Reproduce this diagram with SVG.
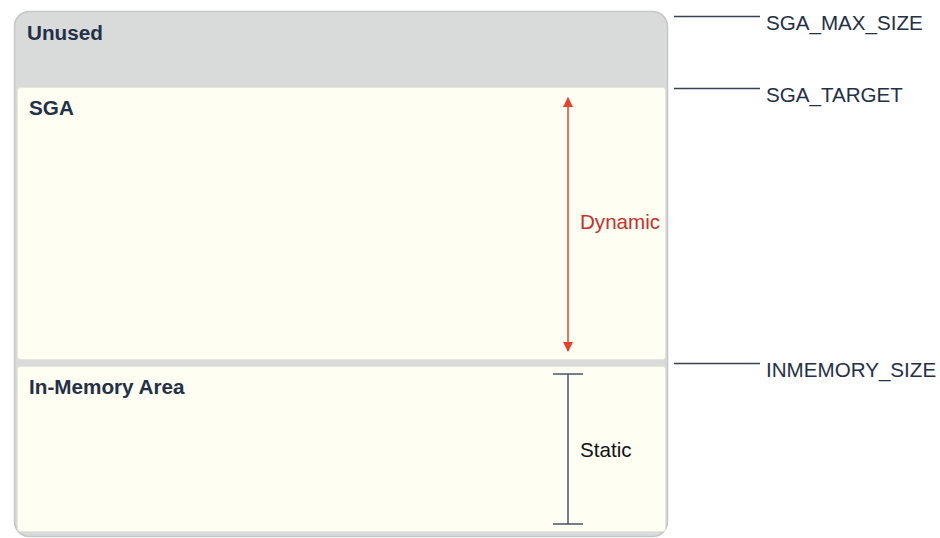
<svg xmlns="http://www.w3.org/2000/svg" width="940" height="538" viewBox="0 0 940 538">
<style>
.box{fill:#fefef3;stroke:#e6e6dc;stroke-width:1}
.title{font-family:"Liberation Sans",Arial,sans-serif;font-weight:bold;font-size:20.7px;fill:#243047}
.lbl{font-family:"Liberation Sans",Arial,sans-serif;font-size:20.6px;fill:#243047}
.lead{stroke:#3a4255;stroke-width:1.3}
</style>
<defs>
<marker id="ah" viewBox="0 0 10 10" refX="9" refY="5" markerWidth="10" markerHeight="12" markerUnits="userSpaceOnUse" orient="auto-start-reverse">
<path d="M0,0 L10,5 L0,10 Z" fill="#e8402a"/>
</marker>
</defs>
<g id="unused">
<rect x="14.5" y="11.5" width="653" height="525" rx="15" fill="#d9dbda" stroke="#c4c6c5" stroke-width="1.5"/>
<text class="title" x="27" y="40">Unused</text>
</g>
<g id="sga">
<rect class="box" x="17.5" y="87.5" width="648" height="272" rx="3"/>
<text class="title" x="29" y="115">SGA</text>
</g>
<g id="inmemory">
<rect class="box" x="17.5" y="366.5" width="648" height="165" rx="3"/>
<text class="title" x="29" y="394">In-Memory Area</text>
</g>
<g id="connectors">
<line x1="568" y1="98" x2="568" y2="351" stroke="#e8402a" stroke-width="1.5" marker-start="url(#ah)" marker-end="url(#ah)"/>
<line x1="568" y1="374" x2="568" y2="524" stroke="#4a5368" stroke-width="1.5"/>
<line x1="553" y1="374" x2="583" y2="374" stroke="#4a5368" stroke-width="1.5"/>
<line x1="553" y1="524" x2="583" y2="524" stroke="#4a5368" stroke-width="1.5"/>
<line class="lead" x1="674" y1="16.5" x2="760" y2="16.5"/>
<line class="lead" x1="674" y1="88.5" x2="760" y2="88.5"/>
<line class="lead" x1="674" y1="363.5" x2="760" y2="363.5"/>
</g>
<text class="lbl" x="766" y="30">SGA_MAX_SIZE</text>
<text class="lbl" x="766" y="102">SGA_TARGET</text>
<text class="lbl" x="766" y="377">INMEMORY_SIZE</text>
<text x="580" y="229" font-family="Liberation Sans,Arial,sans-serif" font-size="20.6" fill="#c8302a">Dynamic</text>
<text x="580" y="457" font-family="Liberation Sans,Arial,sans-serif" font-size="20.6" fill="#111">Static</text>
</svg>
